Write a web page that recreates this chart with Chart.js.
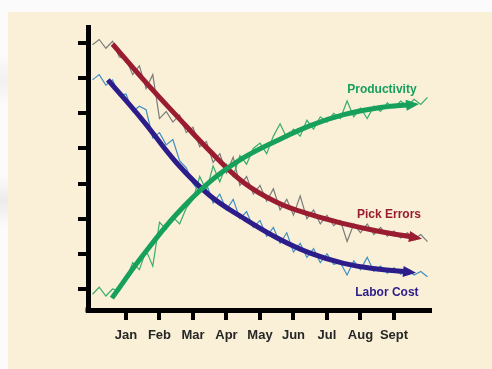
<!DOCTYPE html>
<html>
<head>
<meta charset="utf-8">
<script src="https://cdn.jsdelivr.net/npm/chart.js@4.4.1/dist/chart.umd.min.js"></script>
<style>
  html, body { margin: 0; padding: 0; background: #ffffff; }
  #wrap { position: relative; width: 492px; height: 369px; overflow: hidden;
          background:
            linear-gradient(172deg, transparent 0 40%, rgba(200,200,200,0.3) 46%, transparent 52%),
            linear-gradient(8deg, transparent 0 60%, rgba(210,210,210,0.25) 66%, transparent 72%),
            #fbfbfb; }
  #panel { position: absolute; left: 8px; top: 12px; width: 484px; height: 357px; background: #faf0d8; }
  canvas { position: absolute; left: 0; top: 0; }
</style>
</head>
<body>
<div id="wrap">
  <div id="panel"></div>
  <canvas id="chart" width="492" height="369"></canvas>
</div>
<script>
// Month axis labels (Jan = 1 ... Sept = 9) and the unlabeled level ticks
const months = ['Jan', 'Feb', 'Mar', 'Apr', 'May', 'Jun', 'Jul', 'Aug', 'Sept'];
const monthTicks = [1, 2, 3, 4, 5, 6, 7, 8, 9];
const levelTicks = [1, 2, 3, 4, 5, 6, 7, 8];

// Smoothed trend curves
const pickErrorsX = [0.6, 1.5, 2.5, 3.5, 4.5, 5.5, 6.5, 7.5, 8.5, 9.66];
const pickErrors  = [7.97, 6.98, 5.94, 4.93, 4.04, 3.47, 3.12, 2.86, 2.65, 2.46];
const laborCostX  = [0.46, 1.5, 2.5, 3.5, 4.5, 5.5, 6.5, 7.5, 8.5, 9.48];
const laborCost   = [6.95, 5.8, 4.6, 3.66, 3.02, 2.46, 2.02, 1.73, 1.57, 1.48];
const productivityX = [0.58, 1.5, 2.5, 3.5, 4.5, 5.5, 6.5, 7.5, 8.5, 9.57];
const productivity  = [0.74, 1.95, 3.12, 4.05, 4.73, 5.22, 5.65, 5.96, 6.15, 6.25];

// Raw (unsmoothed) readings behind each trend
const sampleX = [0, 0.2, 0.4, 0.6, 0.8, 1, 1.2, 1.4, 1.6, 1.8, 2, 2.2, 2.4, 2.6, 2.8, 3, 3.2, 3.4, 3.6, 3.8,
                 4, 4.2, 4.4, 4.6, 4.8, 5, 5.2, 5.4, 5.6, 5.8, 6, 6.2, 6.4, 6.6, 6.8, 7, 7.2, 7.4, 7.6, 7.8,
                 8, 8.2, 8.4, 8.6, 8.8, 9, 9.2, 9.4, 9.6, 9.8, 10];
const pickErrorsRaw = [7.95, 8.1, 7.85, 8.05, 7.6, 7.55, 7.1, 7.35, 6.7, 7.1, 5.85, 6.05, 5.75, 5.95, 5.45, 5.6, 5.05, 5.2, 4.6, 4.85,
                       4.3, 4.75, 3.95, 4.2, 3.7, 3.95, 3.5, 3.85, 3.25, 3.55, 3.1, 3.65, 3.0, 3.25, 2.85, 3.1, 2.8, 2.95, 2.35, 2.85,
                       2.6, 2.85, 2.55, 2.75, 2.5, 2.65, 2.45, 2.6, 2.42, 2.55, 2.35];
const laborCostRaw  = [6.95, 7.1, 6.8, 6.95, 6.5, 6.55, 6.05, 6.2, 6.1, 5.3, 5.45, 5.1, 5.25, 4.65, 4.45, 4.0, 3.75, 4.0, 3.45, 3.7,
                       3.25, 3.55, 3.0, 3.2, 2.75, 2.95, 2.5, 2.75, 2.3, 2.6, 2.05, 2.3, 1.9, 2.15, 1.75, 2.0, 1.7, 1.75, 1.4, 1.8,
                       1.55, 1.9, 1.5, 1.65, 1.45, 1.6, 1.42, 1.55, 1.4, 1.5, 1.35];
const productivityRaw = [0.85, 1.05, 0.8, 1.0, 0.95, 1.25, 1.75, 1.55, 2.1, 1.65, 2.9, 2.7, 3.05, 2.85, 3.3, 3.55, 4.2, 3.8, 4.5, 4.05,
                         4.55, 4.2, 4.8, 4.55, 5.0, 5.15, 4.85, 5.35, 5.7, 5.3, 5.55, 5.35, 5.8, 5.55, 5.9, 5.75, 6.0, 5.85, 6.35, 5.9,
                         6.15, 5.85, 6.2, 6.05, 6.3, 6.15, 6.35, 6.2, 6.4, 6.25, 6.45];

const pairs = (xs, ys) => xs.map((x, i) => ({ x, y: ys[i] }));

const FONT = '"Liberation Sans", Arial, Helvetica, sans-serif';
const COLORS = {
  pick: '#9a1c30', labor: '#2c1d8a', prod: '#17a05c',
  pickRaw: '#7a7a7a', laborRaw: '#3f8fc2', prodRaw: '#3aac6c'
};

// Series names written beside the curve ends (anchored in data units)
const seriesLabels = [
  { text: 'Productivity', x: 8.64, y: 6.66, color: COLORS.prod },
  { text: 'Pick Errors',  x: 8.85, y: 3.11, color: COLORS.pick },
  { text: 'Labor Cost',   x: 8.79, y: 0.89, color: COLORS.labor }
];

const trend = (label, xs, ys, color) => ({
  label, data: pairs(xs, ys), borderColor: color, borderWidth: 5,
  tension: 0.4, pointRadius: 0, fill: false, arrow: true,
  borderCapStyle: 'butt'
});
const raw = (label, ys, color) => ({
  label, data: pairs(sampleX, ys), borderColor: color, borderWidth: 1.2,
  tension: 0, pointRadius: 0, fill: false
});

// Arrowheads at the right end of each trend curve, pointing along its tangent
const arrowHeads = {
  id: 'arrowHeads',
  afterDatasetsDraw(chart) {
    const ctx = chart.ctx;
    chart.data.datasets.forEach((ds, i) => {
      if (!ds.arrow) return;
      const pts = chart.getDatasetMeta(i).data;
      const b = pts[pts.length - 1];
      let ax = b.cp1x, ay = b.cp1y;
      if (ax === undefined || (ax === b.x && ay === b.y)) { ax = pts[pts.length - 2].x; ay = pts[pts.length - 2].y; }
      const ang = Math.atan2(b.y - ay, b.x - ax);
      const len = 13, half = 5.5, ahead = 6;
      ctx.save();
      ctx.translate(b.x, b.y);
      ctx.rotate(ang);
      ctx.beginPath();
      ctx.moveTo(ahead, 0);
      ctx.lineTo(ahead - len, -half);
      ctx.lineTo(ahead - len, half);
      ctx.closePath();
      ctx.fillStyle = ds.borderColor;
      ctx.fill();
      ctx.restore();
    });
  }
};

const curveLabels = {
  id: 'curveLabels',
  afterDraw(chart) {
    const { ctx, scales: { x, y }, chartArea } = chart;
    ctx.save();
    ctx.font = 'bold 12px ' + FONT;
    ctx.textAlign = 'center';
    ctx.textBaseline = 'middle';
    seriesLabels.forEach(l => {
      ctx.fillStyle = l.color;
      ctx.fillText(l.text, x.getPixelForValue(l.x), y.getPixelForValue(l.y));
    });
    // square off the corner where the two axis lines meet
    ctx.fillStyle = '#000';
    ctx.fillRect(chartArea.left - 2.5, chartArea.bottom - 2.5, 5, 5);
    ctx.restore();
  }
};

new Chart(document.getElementById('chart'), {
  type: 'line',
  data: {
    datasets: [
      trend('Productivity', productivityX, productivity, COLORS.prod),
      trend('Pick Errors', pickErrorsX, pickErrors, COLORS.pick),
      trend('Labor Cost', laborCostX, laborCost, COLORS.labor),
      raw('Productivity (raw)', productivityRaw, COLORS.prodRaw),
      raw('Pick Errors (raw)', pickErrorsRaw, COLORS.pickRaw),
      raw('Labor Cost (raw)', laborCostRaw, COLORS.laborRaw)
    ]
  },
  options: {
    responsive: false,
    animation: false,
    devicePixelRatio: 1,
    layout: { padding: { left: 0, top: 27, right: 62, bottom: 0 } },
    plugins: { legend: { display: false }, tooltip: { enabled: false } },
    scales: {
      x: {
        type: 'linear', min: -0.134, max: 10.075,
        afterBuildTicks: s => { s.ticks = monthTicks.map(v => ({ value: v })); },
        afterFit: s => { s.height = 59; },
        border: { display: true, width: 5, color: '#000' },
        grid: { display: true, drawOnChartArea: false, drawTicks: true, tickLength: 10, lineWidth: 4, color: '#000' },
        ticks: {
          autoSkip: false, maxRotation: 0, padding: 8, color: '#262626',
          font: { family: FONT, size: 13, weight: 'bold' },
          callback: v => months[Math.round(v) - 1]
        }
      },
      y: {
        type: 'linear', min: 0.402, max: 8.455,
        afterBuildTicks: s => { s.ticks = levelTicks.map(v => ({ value: v })); },
        afterFit: s => { s.width = 88; },
        border: { display: true, width: 5, color: '#000' },
        grid: { display: true, drawOnChartArea: false, drawTicks: true, tickLength: 10, lineWidth: 4, color: '#000' },
        ticks: { display: false }
      }
    }
  },
  plugins: [arrowHeads, curveLabels]
});
</script>
</body>
</html>
